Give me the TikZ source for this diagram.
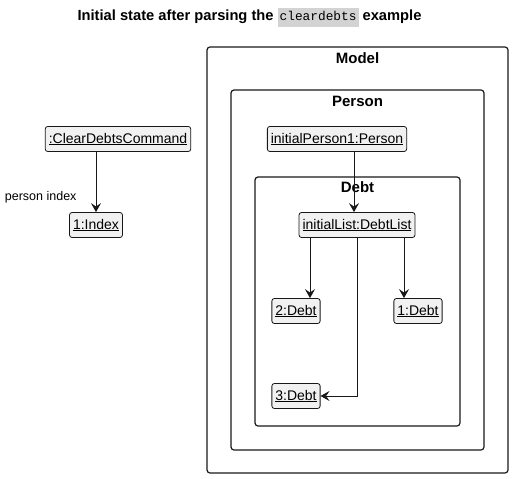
\documentclass[tikz,border=0pt]{standalone}
\usepackage{fontspec}
\setmainfont{Liberation Sans}
\setmonofont{Liberation Mono}
\usetikzlibrary{arrows.meta}
\definecolor{lc}{HTML}{181818}
\definecolor{nf}{HTML}{F1F1F1}
\definecolor{tb}{HTML}{D3D3D3}
\tikzset{
  obj/.style={draw=lc, fill=nf, line width=0.8bp, rounded corners=2.5bp, inner xsep=3.5bp, inner ysep=0bp, minimum height=25bp, font=\fontsize{14bp}{16bp}\selectfont},
  cont/.style={draw=lc, line width=1.2bp, rounded corners=3bp, inner sep=0pt},
  clabel/.style={font=\fontsize{15bp}{17bp}\selectfont\bfseries},
  arr/.style={draw=lc, line width=0.8bp, -{Stealth[length=9bp,width=10bp,inset=3.5bp]}},
}
\begin{document}
\begin{tikzpicture}[x=1bp,y=-1bp]
\useasboundingbox (0,0) rectangle (512,479);
% title
\node[font=\fontsize{14.7bp}{17bp}\selectfont\bfseries] (title) at (249.5,18)
  {Initial state after parsing the {\setlength{\fboxsep}{2bp}\colorbox{tb}{\mdseries\fontsize{12.8bp}{15bp}\selectfont\ttfamily\strut cleardebts}} example};
% containers
\node[cont, minimum width=301bp, minimum height=426bp] (model) at (357.5,260) {};
\node[cont, minimum width=253bp, minimum height=360bp] (personbox) at (357.5,270) {};
\node[cont, minimum width=205bp, minimum height=249bp] (debtbox) at (357.5,301.5) {};
\node[clabel] (modellbl) at (357.5,58) {Model};
\node[clabel] (personlbl) at (357.5,101) {Person};
\node[clabel] (debtlbl) at (357.5,187) {Debt};
% objects
\node[obj] (cmd) at (118,139) {\underline{:ClearDebtsCommand}};
\node[obj] (index) at (96,225) {\underline{1:Index}};
\node[obj] (person) at (337,139) {\underline{initialPerson1:Person}};
\node[obj] (list) at (357,225) {\underline{initialList:DebtList}};
\node[obj] (debt2) at (296,311) {\underline{2:Debt}};
\node[obj] (debt1) at (418,311) {\underline{1:Debt}};
\node[obj] (debt3) at (296,396) {\underline{3:Debt}};
% connectors
\draw[arr] (index |- cmd.south) -- (index.north);
\node[font=\fontsize{12.5bp}{15bp}\selectfont, anchor=east] (lbl) at (80,197) {person index};
\draw[arr] ([xshift=-3bp]list.north |- person.south) -- ([xshift=-3bp]list.north);
\draw[arr] ([xshift=-47bp]list.south) -- ([xshift=-47bp]list.south |- debt2.north);
\draw[arr] (list.south) |- (debt3.east);
\draw[arr] ([xshift=47bp]list.south) -- ([xshift=47bp]list.south |- debt1.north);
\end{tikzpicture}
\end{document}
